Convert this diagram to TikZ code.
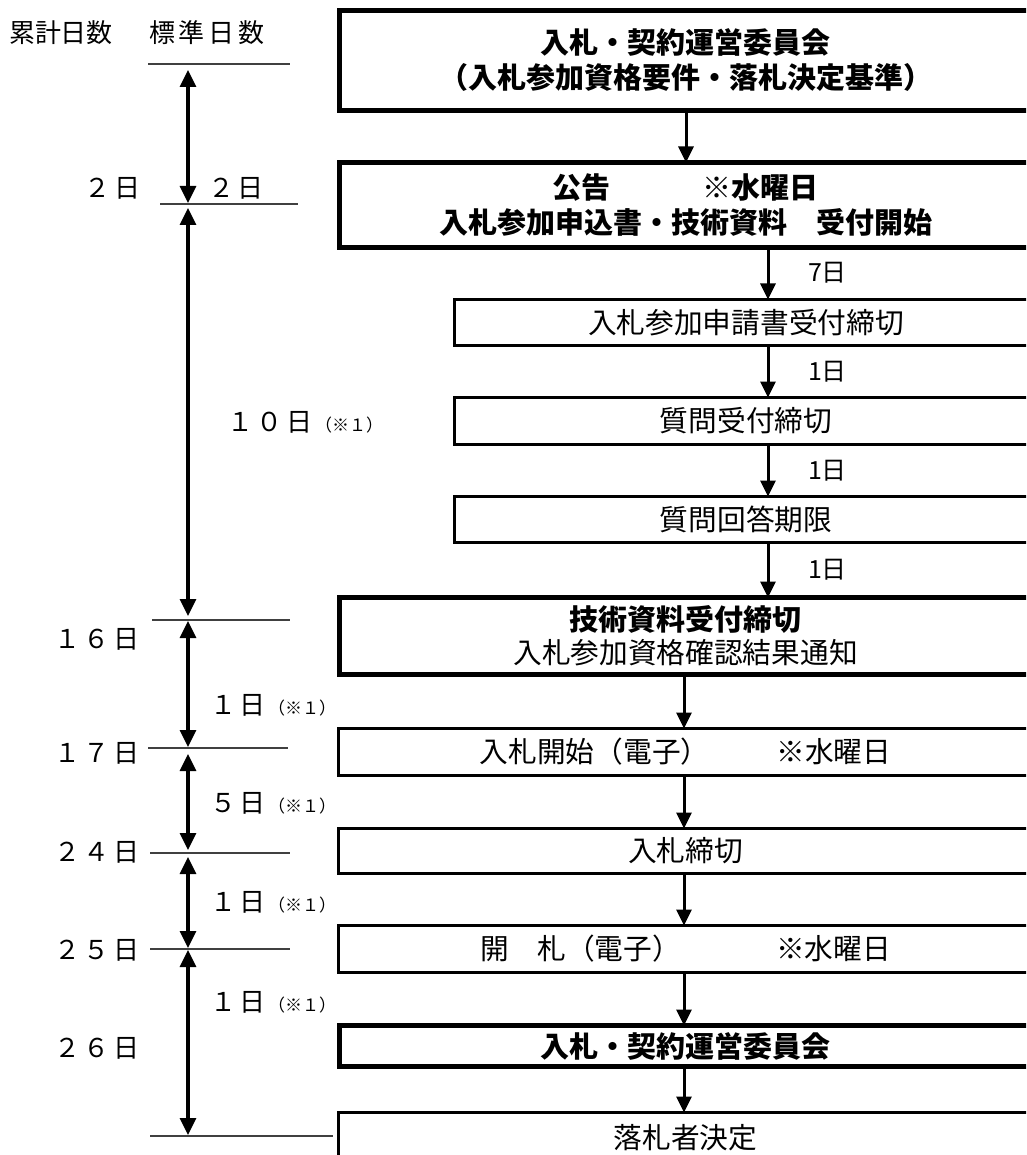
\documentclass[tikz,border=0pt]{standalone}
\usepackage{fontspec}
\setmainfont{Noto Sans CJK JP}
\usetikzlibrary{arrows.meta}
\newcommand\cz[1]{\makebox[30pt]{#1}}
\newcommand\ck[1]{\makebox[25.7pt]{#1}}
\newcommand\note{{\fontsize{17}{17}\selectfont （※１）}}
\begin{document}
\begin{tikzpicture}[x=1pt,y=-1pt,
  every node/.style={inner sep=0pt,outer sep=0pt},
  thinbox/.style={draw,rectangle,line width=3.4pt,anchor=north west,align=center,
    font=\fontsize{28.7}{34}\selectfont},
  thickbox/.style={thinbox,line width=5.6pt,font=\fontsize{29}{35}\selectfont\bfseries},
  flow/.style={line width=3pt,-{Triangle[width=15pt,length=16pt]}},
  span/.style={line width=3.2pt,{Triangle[width=16pt,length=17pt]}-{Triangle[width=16pt,length=17pt]}},
  tick/.style={line width=1.5pt,black!75},
  lbl/.style={anchor=west,font=\fontsize{26}{26}\selectfont},
  daylbl/.style={anchor=west,font=\fontsize{25}{25}\selectfont},
]
\useasboundingbox (0,0) rectangle (1026,1155);
\clip (0,0) rectangle (1026,1155);
\fill[white] (0,0) rectangle (1026,1155);

% boxes
\node[thickbox,minimum width=692pt,minimum height=100pt] (b1) at (339.5,10.5)
  {入札・契約運営委員会\\（入札参加資格要件・落札決定基準）};
\node[thickbox,minimum width=692pt,minimum height=85pt] (b2) at (339.5,162.5)
  {公告\hspace{92pt}※水曜日\\入札参加申込書・技術資料　受付開始};
\node[thinbox,minimum width=583pt,minimum height=46pt] (b3) at (454.5,299.5) {入札参加申請書受付締切};
\node[thinbox,minimum width=583pt,minimum height=47pt] (b4) at (454.5,397.5) {質問受付締切};
\node[thinbox,minimum width=583pt,minimum height=46pt] (b5) at (454.5,496.5) {質問回答期限};
\node[thickbox,font=\fontsize{28.7}{33}\selectfont,minimum width=692pt,minimum height=77pt] (b6) at (339.5,597.5)
  {{\fontsize{29}{33}\selectfont\bfseries 技術資料受付締切}\\入札参加資格確認結果通知};
\node[thinbox,minimum width=694pt,minimum height=47pt] (b7) at (338.5,728.5)
  {入札開始（電子）\hspace{67pt}※水曜日};
\node[thinbox,minimum width=694pt,minimum height=45pt] (b8) at (338.5,828.5) {入札締切};
\node[thinbox,minimum width=694pt,minimum height=47pt] (b9) at (338.5,925.5)
  {開　札（電子）\hspace{95pt}※水曜日};
\node[thickbox,minimum width=692pt,minimum height=41pt] (b10) at (339.5,1025.5) {入札・契約運営委員会};
\node[thinbox,minimum width=694pt,minimum height=50pt] (b11) at (338.5,1112.5) {落札者決定};

% flow connectors
\coordinate (xa) at (686,0);
\coordinate (xb) at (768,0);
\coordinate (xc) at (684,0);
\draw[flow] (b1.south -| xa) -- (b2.north -| xa);
\draw[flow] (b2.south -| xb) -- (b3.north -| xb);
\draw[flow] (b3.south -| xb) -- (b4.north -| xb);
\draw[flow] (b4.south -| xb) -- (b5.north -| xb);
\draw[flow] (b5.south -| xb) -- (b6.north -| xb);
\draw[flow] (b6.south -| xc) -- (b7.north -| xc);
\draw[flow] (b7.south -| xc) -- (b8.north -| xc);
\draw[flow] (b8.south -| xc) -- (b9.north -| xc);
\draw[flow] (b9.south -| xc) -- (b10.north -| xc);
\draw[flow] (b10.south -| xc) -- (b11.north -| xc);

\node[daylbl] (d1) at (808,273) {7日};
\node[daylbl] (d2) at (808,372) {1日};
\node[daylbl] (d3) at (808,471) {1日};
\node[daylbl] (d4) at (808,570) {1日};

% left scale
\coordinate (t0) at (188,64);
\coordinate (t1) at (188,204);
\coordinate (t2) at (188,620);
\coordinate (t3) at (188,748);
\coordinate (t4) at (188,853);
\coordinate (t5) at (188,949);
\coordinate (t6) at (188,1136);
\draw[tick] (148,64) -- (290,64);
\draw[tick] (160,204) -- (298,204);
\draw[tick] (152,620) -- (290,620);
\draw[tick] (148,748) -- (288,748);
\draw[tick] (150,853) -- (290,853);
\draw[tick] (150,949) -- (290,949);
\draw[tick] (150,1136) -- (333,1136);

\draw[span,shorten <=6pt,shorten >=1pt] (t0) -- (t1);
\draw[span,shorten <=4pt,shorten >=4pt] (t1) -- (t2);
\draw[span,shorten <=1pt,shorten >=1pt] (t2) -- (t3);
\draw[span,shorten <=6pt,shorten >=3pt] (t3) -- (t4);
\draw[span,shorten <=4pt,shorten >=1pt] (t4) -- (t5);
\draw[span,shorten <=1pt,shorten >=1pt] (t5) -- (t6);

% labels
\node[lbl] (h1) at (9.7,33) {\ck{累}\ck{計}\ck{日}\ck{数}};
\node[lbl] (h2) at (147,33) {\cz{標}\cz{準}\cz{日}\cz{数}};
\node[lbl] (c1) at (82.5,188) {\cz{２}\cz{日}};
\node[lbl] (s1) at (206,188) {\cz{２}\cz{日}};
\node[lbl] (s2) at (225,422) {\cz{１}\cz{０}\cz{日}\note};
\node[lbl] (c2) at (52,639) {\cz{１}\cz{６}\cz{日}};
\node[lbl] (s3) at (208,705) {\cz{１}\cz{日}\note};
\node[lbl] (c3) at (52,753) {\cz{１}\cz{７}\cz{日}};
\node[lbl] (s4) at (208,803) {\cz{５}\cz{日}\note};
\node[lbl] (c4) at (52,852) {\cz{２}\cz{４}\cz{日}};
\node[lbl] (s5) at (208,902) {\cz{１}\cz{日}\note};
\node[lbl] (c5) at (52,950) {\cz{２}\cz{５}\cz{日}};
\node[lbl] (s6) at (208,1002) {\cz{１}\cz{日}\note};
\node[lbl] (c6) at (52,1048) {\cz{２}\cz{６}\cz{日}};
\end{tikzpicture}
\end{document}
